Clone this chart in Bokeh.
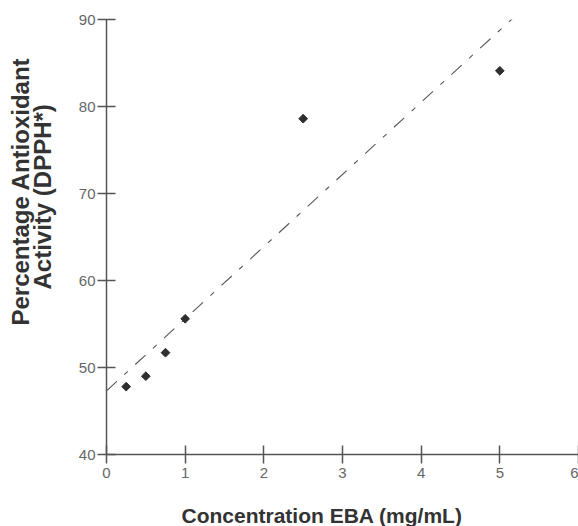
import numpy as np
from bokeh.plotting import figure
from bokeh.models import Range1d, FixedTicker, ColumnDataSource, Title
from bokeh.embed import file_html
from bokeh.resources import INLINE

# Data
concentration = [0.25, 0.5, 0.75, 1.0, 2.5, 5.0]
activity = [47.8, 49.0, 51.7, 55.6, 78.6, 84.1]
x_ticks = [0, 1, 2, 3, 4, 5, 6]
y_ticks = [40, 50, 60, 70, 80, 90]
x_title = "Concentration EBA (mg/mL)"
y_title_lines = ["Percentage Antioxidant", "Activity  (DPPH*)"]

# linear trendline fitted to the data
slope, intercept = np.polyfit(concentration, activity, 1)
trend_x = [0.0, 6.0]
trend_y = [intercept + slope * t for t in trend_x]

FONT = "Liberation Sans"
AXIS_COLOR = "#555555"

p = figure(width=578, height=526, output_backend="svg", toolbar_location=None,
           x_range=Range1d(0, 6), y_range=Range1d(40, 90),
           min_border_left=106, min_border_right=0, min_border_top=19,
           min_border_bottom=72)
p.outline_line_color = None
p.xgrid.visible = False
p.ygrid.visible = False
p.background_fill_color = "white"
p.border_fill_color = "white"

p.line(trend_x, trend_y, line_color="#555555", line_width=1.1, line_dash="14 10 5 10")

src = ColumnDataSource(dict(x=concentration, y=activity))
p.scatter("x", "y", source=src, marker="square", angle=np.pi / 4, size=6.2,
          fill_color="#2f2f2f", line_color="#2f2f2f")

for ax, ticks in ((p.xaxis[0], x_ticks), (p.yaxis[0], y_ticks)):
    ax.ticker = FixedTicker(ticks=ticks)
    ax.axis_line_color = AXIS_COLOR
    ax.axis_line_width = 1.5
    ax.major_tick_line_color = AXIS_COLOR
    ax.major_tick_line_width = 1.5
    ax.major_tick_in = 9
    ax.major_tick_out = 9
    ax.minor_tick_line_color = None
    ax.major_label_text_font = FONT
    ax.major_label_text_font_size = "15px"
    ax.major_label_text_color = "#666666"
    # blank spacer label to push the titles outward
    ax.axis_label = " "
    ax.axis_label_text_font_size = "1px"

p.xaxis[0].major_label_standoff = 4
p.yaxis[0].major_label_standoff = 2
p.xaxis[0].axis_label_standoff = 17
p.yaxis[0].axis_label_standoff = 22

# axis titles as side titles (positioned like the reference)
p.add_layout(Title(text=x_title, align="left", offset=75, standoff=0,
                   vertical_align="bottom",
                   text_font=FONT, text_font_size="21px", text_font_style="bold",
                   text_color="#333333"), "below")
for line, off, so in zip(reversed(y_title_lines), [78, 38], [-13, 0]):
    p.add_layout(Title(text=line, align="right", offset=off, standoff=so,
                       vertical_align="bottom",
                       text_font=FONT, text_font_size="24px", text_font_style="bold",
                       text_color="#333333"), "left")

open("out.html", "w").write(file_html(p, INLINE))
